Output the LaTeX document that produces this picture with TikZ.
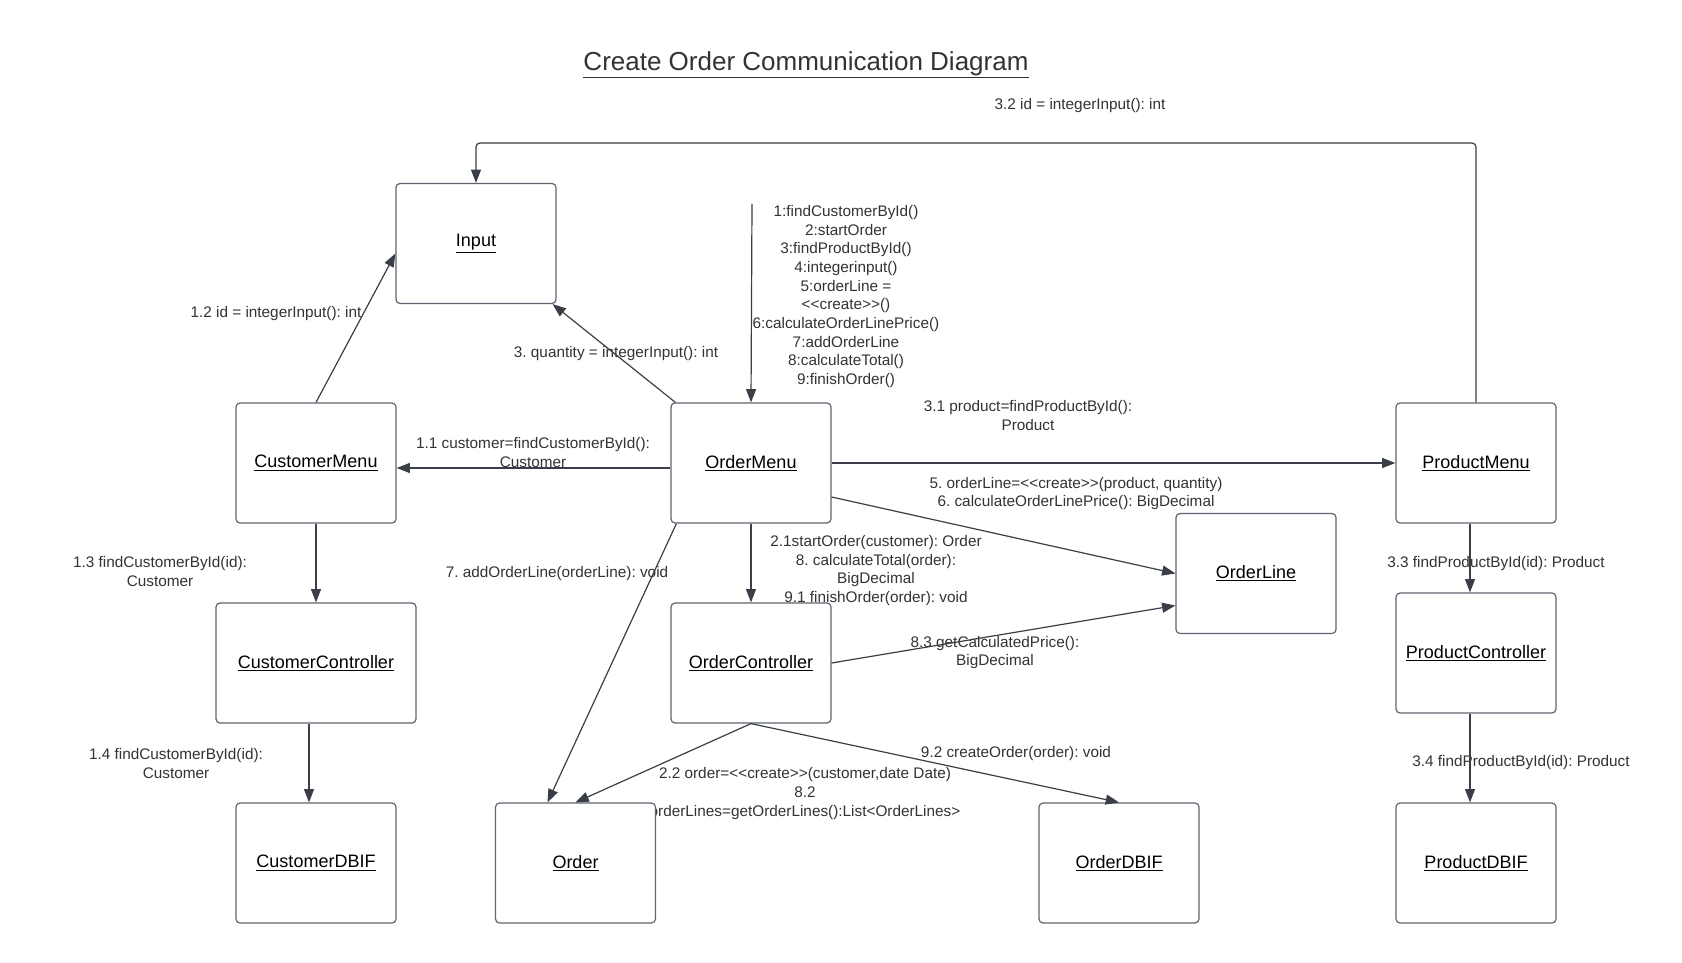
\documentclass[tikz,border=0pt]{standalone}
\usepackage{fontspec}
\setmainfont{Liberation Sans}[Ligatures=TeXOff]
\frenchspacing
\usetikzlibrary{arrows.meta,calc}
\definecolor{linec}{HTML}{3A3F47}
\definecolor{boxc}{HTML}{5F6570}
\definecolor{txtc}{HTML}{333333}
\tikzset{
  obj/.style={draw=boxc, line width=0.9pt, fill=white, rounded corners=3pt,
    minimum width=120pt, minimum height=90pt, inner sep=0pt,
    font=\fontsize{13.5}{16}\selectfont, text=black},
  wideobj/.style={obj, minimum width=150pt},
  lbl/.style={font=\fontsize{11.5}{14}\selectfont\frenchspacing, text=txtc, align=center, inner sep=0pt, yshift=-2pt},
  arr/.style={draw=linec, line width=0.9pt, -{Triangle[length=10pt,width=7.5pt]}},
}
\begin{document}
\begin{tikzpicture}[x=0.75pt,y=-0.75pt]
\useasboundingbox[fill=white] (0,0) rectangle (1682,963);
% title
\node[font=\fontsize{19.5}{23}\selectfont, text=txtc, inner sep=0pt] (title) at (806,65) {\underline{Create Order Communication Diagram}};
% labels (drawn first so boxes cover them where needed)
\node[lbl] (l32) at (1080,103) {3.2 id = integerInput(): int};
\node[lbl] (l12) at (276,311) {1.2 id = integerInput(): int};
\node[lbl] (l3) at (616,351) {3. quantity = integerInput(): int};
\node[lbl] (lmain) at (846,294) {1:findCustomerById()\\2:startOrder\\3:findProductById()\\4:integerinput()\\5:orderLine =\\<<create>>()\\6:calculateOrderLinePrice()\\7:addOrderLine\\8:calculateTotal()\\9:finishOrder()};
\node[lbl] (l11) at (533,450) {1.1 customer=findCustomerById():\\Customer};
\node[lbl] (l31) at (1028,413) {3.1 product=findProductById():\\Product};
\node[lbl] (l56) at (1076,491) {5. orderLine=<<create>>(product, quantity)\\6. calculateOrderLinePrice(): BigDecimal};
\node[lbl] (l21) at (876,568) {2.1startOrder(customer): Order\\8. calculateTotal(order):\\BigDecimal\\9.1 finishOrder(order): void};
\node[lbl] (l7) at (557,571) {7. addOrderLine(orderLine): void};
\node[lbl] (l83) at (995,650) {8.3 getCalculatedPrice():\\BigDecimal};
\node[lbl] (l22) at (805,791) {2.2 order=<<create>>(customer,date Date)\\8.2\\orderLines=getOrderLines():List<OrderLines>};
\node[lbl] (l92) at (1016,751) {9.2 createOrder(order): void};
\node[lbl] (l13) at (160,569) {1.3 findCustomerById(id):\\Customer};
\node[lbl] (l14) at (176,761) {1.4 findCustomerById(id):\\Customer};
\node[lbl] (l33) at (1496,561) {3.3 findProductById(id): Product};
\node[lbl] (l34) at (1521,760) {3.4 findProductById(id): Product};
% objects
\node[obj] (input) at (476,243.5) {\underline{Input}};
\node[obj] (cm) at (316,463) {\underline{CustomerMenu}};
\node[obj] (om) at (751,463) {\underline{OrderMenu}};
\node[obj] (pm) at (1476,463) {\underline{ProductMenu}};
\node[obj] (ol) at (1256,573.5) {\underline{OrderLine}};
\node[wideobj] (cc) at (316,663) {\underline{CustomerController}};
\node[obj] (oc) at (751,663) {\underline{OrderController}};
\node[obj] (pc) at (1476,653) {\underline{ProductController}};
\node[obj] (cdb) at (316,863) {\underline{CustomerDBIF}};
\node[obj] (ord) at (575.5,863) {\underline{Order}};
\node[obj] (odb) at (1119,863) {\underline{OrderDBIF}};
\node[obj] (pdb) at (1476,863) {\underline{ProductDBIF}};
% connectors
\coordinate (top) at (1000,143);
\coordinate (msgstart) at (752,204);
\draw[arr, rounded corners=3pt] (pm.north) -- (pm.north |- top) -- (input.north |- top) -- (input.north);
\draw[arr] (cm.north) -- ($(input.west)+(0,10)$);
\draw[arr] ($(om.north west)+(5,0)$) -- ($(input.south east)+(-4,0)$);
\draw[arr] (msgstart) -- (om.north);
\draw[arr] ($(om.west)+(0,5)$) -- ($(cm.east)+(0,5)$);
\draw[arr] (om.east) -- (pm.west);
\draw[arr] ($(om.east)+(0,34)$) -- (ol.west);
\draw[arr] (om.south) -- (oc.north);
\draw[arr] ($(om.south west)+(6,0)$) -- ($(ord.north)+(-28,0)$);
\draw[arr] (oc.east) -- ($(ol.west)+(0,32)$);
\draw[arr] (oc.south) -- (ord.north);
\draw[arr] (oc.south) -- (odb.north);
\draw[arr] (cm.south) -- (cc.north);
\draw[arr] ($(cc.south)+(-7,0)$) -- ($(cdb.north)+(-7,0)$);
\draw[arr] ($(pm.south)+(-6,0)$) -- ($(pc.north)+(-6,0)$);
\draw[arr] ($(pc.south)+(-6,0)$) -- ($(pdb.north)+(-6,0)$);
\end{tikzpicture}
\end{document}
